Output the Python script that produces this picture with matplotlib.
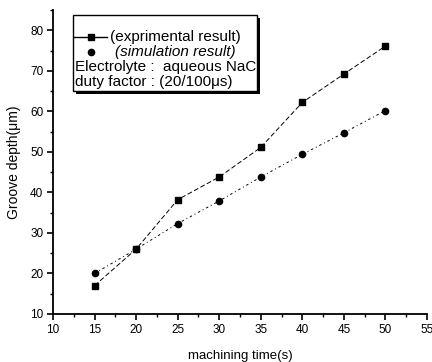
import matplotlib
matplotlib.use("Agg")
import matplotlib.pyplot as plt
from matplotlib.patches import Rectangle
from matplotlib.lines import Line2D
from matplotlib.ticker import MultipleLocator

plt.rcParams['font.family'] = ['Liberation Sans', 'DejaVu Sans']

time_s = [15, 20, 25, 30, 35, 40, 45, 50]
exp_depth = [17, 26, 38.2, 43.8, 51.1, 62.2, 69.2, 76.1]
sim_depth = [20, 26, 32.3, 37.9, 43.8, 49.4, 54.7, 60.2]
x_ticks = [10, 15, 20, 25, 30, 35, 40, 45, 50, 55]
y_ticks = [10, 20, 30, 40, 50, 60, 70, 80]
legend_lines = ["(exprimental result)", "(simulation result)",
                "Electrolyte :  aqueous NaCl", "duty factor : (20/100\u03bcs)"]

W, H = 432, 362
fig = plt.figure(figsize=(W / 100, H / 100), dpi=100)
ax = fig.add_axes([53 / W, 1 - 314 / H, (427 - 53) / W, (314 - 10) / H])

ax.plot(time_s, exp_depth, color='black', lw=0.7, linestyle=(0, (5, 2.5)),
        marker='s', markersize=4.5)
ax.plot(time_s, sim_depth, color='black', lw=0.7, linestyle=(0, (2.5, 3, 1, 3)),
        marker='o', markersize=4.5)

ax.set_xlim(10, 55)
ax.set_ylim(10, 85)
ax.set_xticks(x_ticks)
ax.set_yticks(y_ticks)
ax.xaxis.set_minor_locator(MultipleLocator(2.5))
ax.yaxis.set_minor_locator(MultipleLocator(5))
for s in ['top', 'right']:
    ax.spines[s].set_visible(False)
for s in ['left', 'bottom']:
    ax.spines[s].set_linewidth(1.3)
ax.tick_params(which='major', direction='out', length=4.5, width=1.2,
               labelsize=8.5, pad=2.5)
ax.tick_params(which='minor', direction='out', length=2.5, width=1.0)
ax.set_xlabel('machining time(s)', fontsize=9.5, labelpad=10)
ax.set_ylabel('Groove depth(\u03bcm)', fontsize=10)
ax.yaxis.set_label_coords(-32 / 374, 0.5)

# Legend box (manual) in figure pixel coordinates
def fx(x):
    return x / W

def fy(y):
    return 1 - y / H

bx0, by0, bx1, by1 = 73, 15, 257, 91
shadow = Rectangle((fx(bx0 + 3), fy(by1 + 3)), fx(bx1 - bx0), (by1 - by0) / H,
                   transform=fig.transFigure, facecolor='black', edgecolor='black',
                   lw=0, zorder=10)
box = Rectangle((fx(bx0), fy(by1)), fx(bx1 - bx0), (by1 - by0) / H,
                transform=fig.transFigure, facecolor='white', edgecolor='black',
                lw=1.0, zorder=11)
fig.add_artist(shadow)
fig.add_artist(box)

fig.add_artist(Line2D([fx(74), fx(107)], [fy(37), fy(37)], transform=fig.transFigure,
                      color='black', lw=1.0, marker=None, zorder=12))
fig.add_artist(Line2D([fx(91)], [fy(37)], transform=fig.transFigure, color='black',
                      marker='s', markersize=4.5, zorder=12))
fig.add_artist(Line2D([fx(91)], [fy(52)], transform=fig.transFigure, color='black',
                      marker='o', markersize=4.5, zorder=12))

rows = [(110, 37, 'normal'), (115, 52, 'italic'), (75, 67, 'normal'), (75, 82, 'normal')]
for (x, y, style), txt in zip(rows, legend_lines):
    t = fig.text(fx(x), fy(y), txt, fontsize=11, style=style, va='center', ha='left',
                 zorder=12)
    t.set_clip_path(box)

fig.savefig('out.png', dpi=100)
